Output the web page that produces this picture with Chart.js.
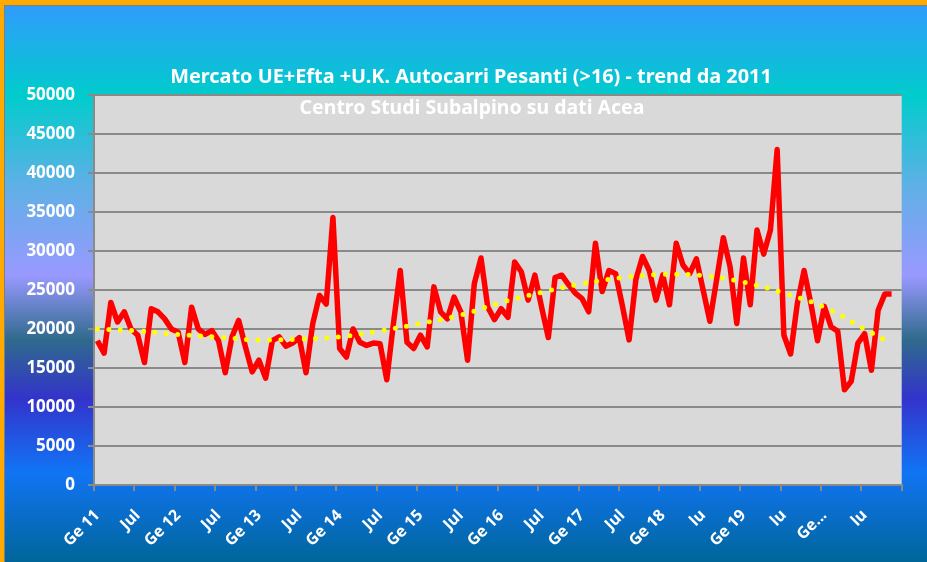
<!DOCTYPE html>
<html>
<head>
<meta charset="utf-8">
<script src="https://cdn.jsdelivr.net/npm/chart.js@4.4.0/dist/chart.umd.min.js"></script>
<style>
  html, body { margin: 0; padding: 0; background: #fff; }
</style>
</head>
<body>
<canvas id="trendChart" width="927" height="562"></canvas>
<script>
// etichette dell'asse X, una ogni 6 mesi (da Ge 11)
const tickLabels = ['Ge 11', 'Jul', 'Ge 12', 'Jul', 'Ge 13', 'Jul', 'Ge 14', 'Jul', 'Ge 15', 'Jul',
                    'Ge 16', 'Jul', 'Ge 17', 'Jul', 'Ge 18', 'lu', 'Ge 19', 'lu', 'Ge...', 'lu'];

// immatricolazioni mensili autocarri pesanti (>16t), gen 2011 - nov 2020
const immatricolazioni = [
  18500, 16900, 23400, 20900, 22200, 20000, 19200, 15700, 22600, 22200, 21300, 20000,
  19600, 15700, 22800, 20000, 19300, 19800, 18500, 14400, 19000, 21100, 17700, 14500,
  16000, 13700, 18500, 19000, 17800, 18200, 18900, 14400, 20700, 24300, 23200, 34300,
  17500, 16400, 20000, 18300, 17900, 18200, 18100, 13500, 20800, 27500, 18300, 17500,
  19200, 17700, 25400, 22200, 21300, 24100, 22200, 16000, 25800, 29100, 22800, 21200,
  22600, 21500, 28600, 27300, 23700, 26900, 22800, 18900, 26600, 26900, 25700, 24600,
  23900, 22200, 31000, 24800, 27500, 27100, 23000, 18600, 26300, 29300, 27500, 23700,
  26900, 23100, 31000, 28200, 27100, 29000, 25000, 21000, 26300, 31700, 28000, 20700,
  29100, 23100, 32700, 29600, 32700, 43000, 19200, 16800, 23300, 27500, 23300, 18500,
  22900, 20300, 19700, 12200, 13300, 18200, 19400, 14700, 22400, 24500, 24500
];

// linea di tendenza (mese indice -> valore)
const trendMesi = [0, 6, 12, 18, 24, 30, 36, 42, 48, 54, 60, 66, 72, 78, 84, 90, 96, 102, 108, 114, 118];
const trendValori = [20000, 19750, 19300, 18950, 18600, 18700, 19000, 19750, 20700, 21800, 23400,
                     24700, 25800, 26600, 27000, 26850, 26000, 24600, 22800, 20000, 18100];

const titolo = 'Mercato UE+Efta +U.K. Autocarri Pesanti (>16) - trend da 2011';
const sottotitolo = 'Centro Studi Subalpino su dati Acea';

const NUM_MESI = 120;
const labels = [];
for (let i = 0; i < NUM_MESI; i++) {
  labels.push(i % 6 === 0 ? tickLabels[i / 6] : '');
}
const trend = new Array(immatricolazioni.length).fill(null);
trendMesi.forEach((m, k) => { trend[m] = trendValori[k]; });

const grigio = '#8a8a8a';

// sfondo sfumato, cornice arancio e area del grafico grigia
const sfondo = {
  id: 'sfondo',
  beforeDraw(chart) {
    const { ctx, width, height, chartArea: a } = chart;
    const g = ctx.createLinearGradient(0, 0, 0, height);
    g.addColorStop(0, '#3399ff');
    g.addColorStop(0.17, '#00cccc');
    g.addColorStop(0.33, '#5fb0e6');
    g.addColorStop(0.49, '#9999ff');
    g.addColorStop(0.605, '#2f6a8c');
    g.addColorStop(0.71, '#3333cc');
    g.addColorStop(0.84, '#1174f5');
    g.addColorStop(1, '#006699');
    ctx.save();
    ctx.fillStyle = g;
    ctx.fillRect(0, 0, width, height);
    ctx.fillStyle = '#ffaa00';
    ctx.fillRect(0, 0, width, 5);
    ctx.fillRect(0, 0, 4, height);
    ctx.fillStyle = '#7f7f7f';
    ctx.fillRect(4, 5, width - 4, 1);
    ctx.fillRect(4, 5, 1, height - 5);
    ctx.fillStyle = '#d9d9d9';
    ctx.fillRect(a.left, a.top, a.right - a.left, a.bottom - a.top);
    ctx.restore();
  }
};

// titolo e sottotitolo (il sottotitolo sta dentro l'area del grafico)
function scriviCentrato(ctx, testo, x, y, larghezza) {
  ctx.font = 'bold 100px "Noto Sans"';
  const size = 100 * larghezza / ctx.measureText(testo).width;
  ctx.font = 'bold ' + size.toFixed(2) + 'px "Noto Sans"';
  ctx.fillText(testo, x, y);
}
const titoli = {
  id: 'titoli',
  afterDraw(chart) {
    const ctx = chart.ctx;
    ctx.save();
    ctx.fillStyle = '#ffffff';
    ctx.textAlign = 'center';
    ctx.textBaseline = 'middle';
    scriviCentrato(ctx, titolo, 471, 77, 602);
    scriviCentrato(ctx, sottotitolo, 472, 108, 345);
    ctx.restore();
  }
};

const ctx = document.getElementById('trendChart').getContext('2d');
new Chart(ctx, {
  type: 'line',
  data: {
    labels: labels,
    datasets: [{
      label: 'Tendenza',
      data: trend,
      borderColor: '#ffff00',
      borderWidth: 5,
      borderDash: [0, 11.5],
      borderCapStyle: 'round',
      pointRadius: 0,
      spanGaps: true,
      tension: 0.4,
      order: 0
    }, {
      label: 'Autocarri pesanti',
      data: immatricolazioni,
      borderColor: '#ff0000',
      borderWidth: 5.5,
      borderJoinStyle: 'round',
      pointRadius: 0,
      tension: 0,
      order: 1
    }]
  },
  options: {
    responsive: false,
    animation: false,
    devicePixelRatio: 1,
    layout: { padding: { top: 95, right: 24, left: 0, bottom: 0 } },
    plugins: {
      legend: { display: false },
      tooltip: { enabled: false }
    },
    scales: {
      x: {
        offset: true,
        grid: {
          offset: true,
          drawOnChartArea: false,
          tickLength: 6,
          lineWidth: 2,
          color: c => (c.index === undefined || c.index % 6 === 0) ? grigio : 'rgba(0,0,0,0)'
        },
        border: { color: grigio, width: 2 },
        ticks: {
          autoSkip: false,
          maxRotation: 45,
          minRotation: 45,
          padding: 15,
          color: '#ffffff',
          font: { family: 'Noto Sans', weight: 'bold', size: 16 }
        },
        afterFit(s) { s.height = 77; }
      },
      y: {
        min: 0,
        max: 50000,
        ticks: {
          stepSize: 5000,
          padding: 13,
          color: '#ffffff',
          font: { family: 'Noto Sans', weight: 'bold', size: 17 },
          callback: v => v
        },
        grid: { color: grigio, lineWidth: 2, tickLength: 6 },
        border: { color: grigio, width: 2 },
        afterFit(s) { s.width = 94; }
      }
    }
  },
  plugins: [sfondo, titoli]
});
</script>
</body>
</html>
